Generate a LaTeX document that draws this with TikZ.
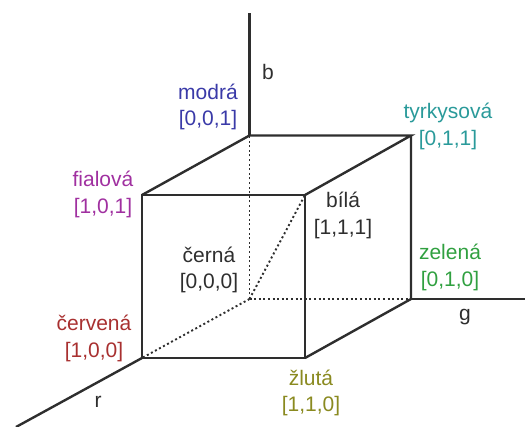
\documentclass[tikz,border=0pt]{standalone}
\usepackage{fontspec}
\setmainfont{Liberation Sans}
\definecolor{cblue}{HTML}{3A3AA8}
\definecolor{cteal}{HTML}{2A9A9A}
\definecolor{cmag}{HTML}{A030A0}
\definecolor{cgreen}{HTML}{30A040}
\definecolor{cred}{HTML}{A83030}
\definecolor{colive}{HTML}{8A8A20}
\definecolor{cdark}{HTML}{2E2E2E}
\begin{document}
\begin{tikzpicture}[x=1pt,y=-1pt,
  edge/.style={draw=cdark,line width=2.4pt,line join=miter},
  hidden/.style={draw=cdark,line width=1.9pt,dash pattern=on 2pt off 2.6pt},
  lbl/.style={align=center,inner sep=0pt,font=\fontsize{21}{26.5}\selectfont},
  axlbl/.style={inner sep=0pt,font=\fontsize{21}{24}\selectfont,text=cdark}]
\useasboundingbox (0,0) rectangle (525,426);
\coordinate (O) at (249.5,299);
\coordinate (B) at (249.5,135.5);
\coordinate (C) at (411,135.5);
\coordinate (G) at (411,299);
\coordinate (R) at (142,358);
\coordinate (Y) at (305,358);
\coordinate (M) at (142,195);
\coordinate (W) at (305,195);
\coordinate (Bax) at (249.5,13);
\coordinate (Gax) at (525,299);
\coordinate (Rax) at (16,427);
% hidden edges
\draw[hidden] (O) -- (B);
\draw[hidden] (O) -- (G);
\draw[hidden] (O) -- (R);
\draw[hidden] (O) -- (W);
% axes
\draw[edge] (B) -- (Bax);
\draw[edge] (G) -- (Gax);
\draw[edge] (R) -- (Rax);
% cube
\draw[edge] (R) -- (Y) -- (W) -- (M) -- cycle;
\draw[edge] (M) -- (B) -- (C) -- (W);
\draw[edge] (Y) -- (G) -- (C);
% labels
\node[axlbl] (lb) at (268,72) {b};
\node[axlbl] (lg) at (465,317) {g};
\node[axlbl] (lr) at (98,402) {r};
\node[lbl,text=cblue] (lmodra) at (208,107) {modrá\\{}[0,0,1]};
\node[lbl,text=cteal] (ltyrk) at (448,126.5) {tyrkysová\\{}[0,1,1]};
\node[lbl,text=cmag] (lfial) at (103,194.5) {fialová\\{}[1,0,1]};
\node[lbl,text=cdark] (lbila) at (343,215.5) {bílá\\{}[1,1,1]};
\node[lbl,text=cdark] (lcerna) at (209,270) {černá\\{}[0,0,0]};
\node[lbl,text=cgreen] (lzel) at (450,267.5) {zelená\\{}[0,1,0]};
\node[lbl,text=cred] (lcerv) at (94,338.5) {červená\\{}[1,0,0]};
\node[lbl,text=colive] (lzlu) at (311,393) {žlutá\\{}[1,1,0]};
\end{tikzpicture}
\end{document}
